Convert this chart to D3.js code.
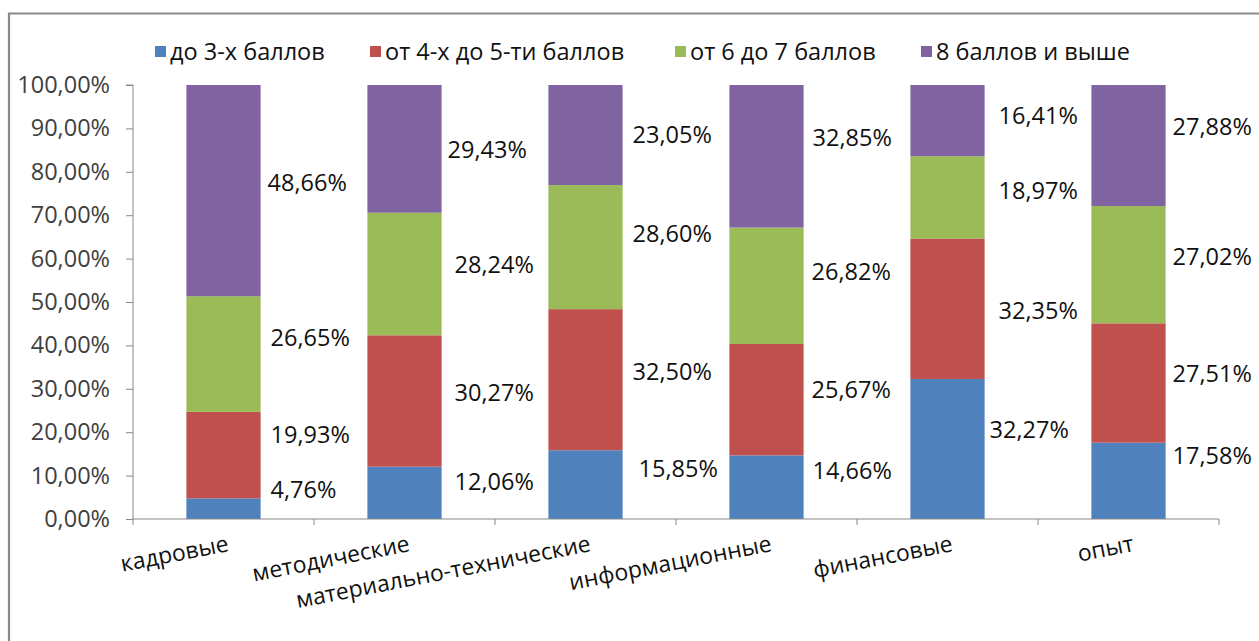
<!DOCTYPE html>
<html>
<head>
<meta charset="utf-8">
<script src="https://cdn.jsdelivr.net/npm/d3@7"></script>
<style>
  html, body { margin: 0; padding: 0; background: #fff; }
  svg { display: block; font-family: "Open Sans", "DejaVu Sans", sans-serif; }
</style>
</head>
<body>
<svg id="chart" width="1259" height="641"></svg>
<script>
// ---- data ----
const categories = ["кадровые", "методические", "материально-технические", "информационные", "финансовые", "опыт"];
const seriesNames = ["до 3-х баллов", "от 4-х до 5-ти баллов", "от 6 до 7 баллов", "8 баллов и выше"];
const s1 = [4.76, 12.06, 15.85, 14.66, 32.27, 17.58];   // до 3-х баллов
const s2 = [19.93, 30.27, 32.50, 25.67, 32.35, 27.51];  // от 4-х до 5-ти баллов
const s3 = [26.65, 28.24, 28.60, 26.82, 18.97, 27.02];  // от 6 до 7 баллов
const s4 = [48.66, 29.43, 23.05, 32.85, 16.41, 27.88];  // 8 баллов и выше
const yTicks = [0, 10, 20, 30, 40, 50, 60, 70, 80, 90, 100];

// ---- style / layout ----
const colors = ["#4F81BD", "#C0504D", "#9BBB59", "#8064A2"];
// label nudges (pixels) relative to segment centre, per category, per series
const labelDy = [
  [-19, -21, -16, -8],
  [-11, -8, -9, 1],
  [-16, -8, -14, 0],
  [-17, -10, -14, -19],
  [-19, 2, -7, -5],
  [-25, -9, -8, -19]
];
const labelDx = [
  [10, 10, 10, 7],
  [13, 13, 13, 6],
  [16, 10, 10, 10],
  [9, 8, 8, 9],
  [5, 14, 14, 14],
  [7, 7, 7, 7]
];
const legendX = [155, 370, 675, 921];
const FS = 23.5;

const svg = d3.select("#chart");
const W = 1259, H = 641;
const mLeft = 133, mRight = 1219, mTop = 85, mBottom = 519;

// frame
svg.append("line").attr("x1", 8).attr("x2", W).attr("y1", 13.5).attr("y2", 13.5)
  .attr("stroke", "#8a8a8a").attr("stroke-width", 2.2);
svg.append("line").attr("x1", 9).attr("x2", 9).attr("y1", 13).attr("y2", H)
  .attr("stroke", "#8a8a8a").attr("stroke-width", 2.2);

const x = d3.scaleBand().domain(categories).range([mLeft, mRight])
  .paddingInner(0.59).paddingOuter(0.295);
const y = d3.scaleLinear().domain([0, 100]).range([mBottom, mTop]);

const series = [s1, s2, s3, s4];
const rows = categories.map((c, i) => {
  const o = { cat: c };
  seriesNames.forEach((s, k) => o[s] = series[k][i]);
  return o;
});
const stack = d3.stack().keys(seriesNames)(rows);

// bars
stack.forEach((layer, k) => {
  svg.append("g").selectAll("rect").data(layer).join("rect")
    .attr("x", d => x(d.data.cat))
    .attr("width", x.bandwidth())
    .attr("y", d => y(d[1]))
    .attr("height", d => y(d[0]) - y(d[1]))
    .attr("fill", colors[k]);
});

// y axis
const yAxis = d3.axisLeft(y).tickValues(yTicks).tickSize(7).tickPadding(16)
  .tickFormat(d => d.toFixed(2).replace(".", ",") + "%");
const gy = svg.append("g").attr("transform", `translate(${mLeft},0)`).call(yAxis);
gy.select(".domain").attr("stroke", "#888").attr("d", `M-7,${mTop}H0V${mBottom}`);
gy.selectAll(".tick line").attr("stroke", "#888");
gy.selectAll(".tick text").attr("font-size", FS).attr("fill", "#404040")
  .attr("font-family", "'Open Sans', sans-serif");

// x axis line and ticks at band boundaries
svg.append("line").attr("x1", mLeft).attr("x2", mRight).attr("y1", mBottom).attr("y2", mBottom)
  .attr("stroke", "#888");
const boundaries = categories.map(c => x(c) - x.step() * x.paddingInner() / 2).concat([mRight]);
svg.append("g").selectAll("line").data(boundaries).join("line")
  .attr("x1", d => d).attr("x2", d => d).attr("y1", mBottom).attr("y2", mBottom + 6)
  .attr("stroke", "#888");

// category labels
svg.append("g").selectAll("text").data(categories).join("text")
  .attr("transform", c => `translate(${x(c) + x.bandwidth() / 2 + 3},${mBottom + 15}) rotate(-11)`)
  .attr("text-anchor", "end")
  .attr("dy", "0.75em")
  .attr("font-size", FS - 0.5)
  .attr("fill", "#111")
  .text(c => c);

// data labels
stack.forEach((layer, k) => {
  svg.append("g").selectAll("text").data(layer).join("text")
    .attr("x", (d, i) => x(d.data.cat) + x.bandwidth() + labelDx[i][k])
    .attr("y", (d, i) => (y(d[0]) + y(d[1])) / 2 + labelDy[i][k])
    .attr("dy", "0.36em")
    .attr("font-size", FS)
    .attr("fill", "#111")
    .text(d => (d[1] - d[0]).toFixed(2).replace(".", ",") + "%");
});

// legend
const lg = svg.append("g");
seriesNames.forEach((s, k) => {
  lg.append("rect").attr("x", legendX[k]).attr("y", 46).attr("width", 11).attr("height", 11)
    .attr("fill", colors[k]);
  lg.append("text").attr("x", legendX[k] + 15).attr("y", 52).attr("dy", "0.36em")
    .attr("font-size", FS).attr("fill", "#111").text(s);
});
</script>
</body>
</html>
